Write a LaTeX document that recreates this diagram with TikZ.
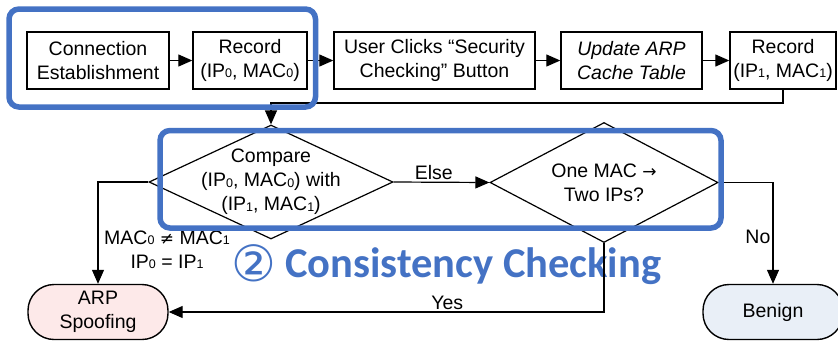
\documentclass[tikz,border=0pt]{standalone}
\usepackage{fontspec}
\setmainfont{Liberation Sans}
\newfontfamily\symfont{DejaVu Sans}
\newfontfamily\calfont{Carlito}
\usetikzlibrary{shapes.geometric,arrows.meta,calc}

% small index digit as in IP0 / MAC1
\newcommand\lowidx[1]{\raisebox{-0.3pt}{\fontsize{12.5}{12.5}\selectfont #1}}

\definecolor{hlblue}{HTML}{4472C4}
\definecolor{spooffill}{HTML}{FDE9E9}
\definecolor{benignfill}{HTML}{E9EFF7}

\tikzset{
  base/.style={font=\fontsize{19.5}{24}\selectfont, align=center},
  procbox/.style={base, draw, line width=1.4pt, minimum height=57pt, inner sep=2pt},
  decision/.style={draw, line width=1.2pt, diamond, inner sep=0pt},
  terminal/.style={base, draw, line width=1.4pt, rounded corners=26pt,
                   minimum height=55pt, inner sep=2pt},
  conn/.style={line width=1.2pt, -{Triangle[length=14pt,width=12pt]}},
  lbl/.style={base, inner sep=2pt},
  hlframe/.style={draw=hlblue, line width=5.5pt, rounded corners=10pt},
}

\begin{document}
\begin{tikzpicture}[x=1pt,y=-1pt]
\useasboundingbox (0,0) rectangle (838,341);

% section title
\node[anchor=base west, text=hlblue, inner sep=0pt] (title) at (231,277)
  {\raisebox{-4pt}{\symfont\fontsize{50}{50}\selectfont ②}\hspace{9pt}{\calfont\bfseries\fontsize{42.5}{44}\selectfont Consistency Checking}};

% top row of steps
\node[procbox, minimum width=142pt] (conn)  at (98,60.5)    {Connection\\Establishment};
\node[procbox, minimum width=114pt] (rec0)  at (250,60.5)   {Record\\(IP\lowidx0, MAC\lowidx0)};
\node[procbox, minimum width=201pt] (click) at (434.5,60.5) {User Clicks “Security\\Checking” Button};
\node[procbox, minimum width=141pt] (upd)   at (631.5,60.5) {\itshape Update ARP\\\itshape Cache Table};
\node[procbox, minimum width=106pt] (rec1)  at (783,60.5)   {Record\\(IP\lowidx1, MAC\lowidx1)};

\draw[conn] (conn) -- (rec0);
\draw[conn] (rec0) -- (click);
\draw[conn] (click) -- (upd);
\draw[conn] (upd) -- (rec1);

% decisions
\node[decision, minimum width=244pt, minimum height=114pt] (d1) at (271,182) {};
\node[base] (d1txt) at (d1) {Compare\\(IP\lowidx0, MAC\lowidx0) with\\(IP\lowidx1, MAC\lowidx1)};
\node[decision, minimum width=228pt, minimum height=120pt] (d2) at (604,182.5) {};
\node[base] (d2txt) at (d2) {One MAC {\symfont\fontsize{17}{20}\selectfont →}\\Two IPs?};

% outcomes
\node[terminal, fill=spooffill, minimum width=140pt] (spoof) at (98,312) {ARP\\Spoofing};
\node[terminal, fill=benignfill, minimum width=140pt] (benign) at (773,312) {Benign};

% feedback from the second record to the comparison
\coordinate (turn) at (500,103);
\draw[conn] (rec1.south) |- (turn) -| (d1.north);

\draw[conn] (d1.east) -- node[lbl, above, pos=0.42] (elselbl) {Else} (d2.west);
\draw[conn] (d1.west) -| (spoof.north);
\node[lbl] (cond) at (167,250) {MAC\lowidx0 {\symfont\fontsize{17}{20}\selectfont ≠} MAC\lowidx1\\IP\lowidx0 = IP\lowidx1};
\draw[conn] (d2.south) |- node[lbl, above, pos=0.68] (yeslbl) {Yes} (spoof.east);
\draw[conn] (d2.east) -| node[lbl, left, pos=0.77] (nolbl) {No} (benign.north);

% highlight frames
\draw[hlframe] (9,9) rectangle (315.5,107);
\draw[hlframe] (160,130.5) rectangle (721,228);
\end{tikzpicture}
\end{document}
